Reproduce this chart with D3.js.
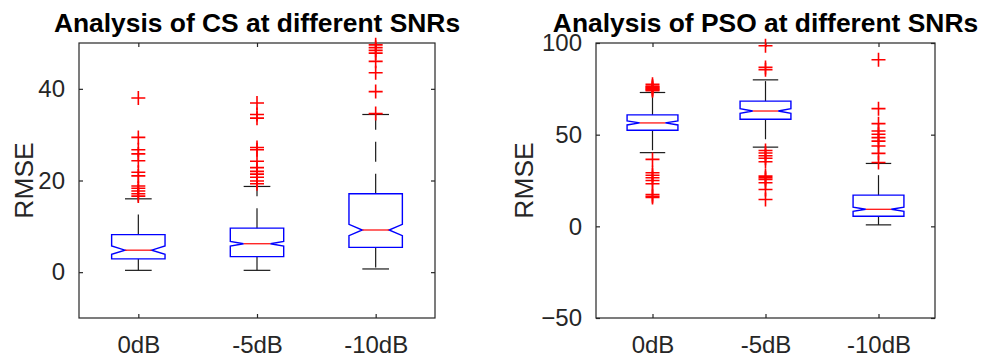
<!DOCTYPE html>
<html>
<head>
<meta charset="utf-8">
<script src="https://cdn.jsdelivr.net/npm/d3@7"></script>
<style>
  html, body { margin: 0; padding: 0; background: #fff; }
  svg { display: block; font-family: "Liberation Sans", Arial, Helvetica, sans-serif; }
</style>
</head>
<body>
<svg id="chart" width="993" height="356"></svg>
<script>
// ---------- Data ----------
const categories = ["0dB", "-5dB", "-10dB"];

// CS panel
const csTitle = "Analysis of CS at different SNRs";
const csTicks = [0, 20, 40];
const csDomain = [-10, 50];
const csQ1 = [2.9, 3.4, 5.4];
const csMedian = [4.8, 6.2, 9.2];
const csQ3 = [8.2, 9.6, 17.1];
const csWhiskerLow = [0.4, 0.4, 0.7];
const csWhiskerHigh = [16.0, 18.7, 34.4];
const csNotch = [0.9, 0.5, 1.25];
const csOutliers = [
  [38.0, 29.4, 26.7, 25.8, 24.3, 21.8, 21.0, 18.8, 18.3, 17.7, 17.1, 16.6],
  [36.9, 34.4, 33.6, 27.2, 26.7, 24.2, 22.8, 22.0, 21.4, 20.7, 19.9, 19.3],
  [34.6, 39.4, 43.5, 46.0, 47.8, 48.4, 49.0, 49.6]
];

// PSO panel
const psoTitle = "Analysis of PSO at different SNRs";
const psoTicks = [-50, 0, 50, 100];
const psoDomain = [-50, 100];
const psoQ1 = [52.4, 58.4, 5.5];
const psoMedian = [56.4, 62.9, 9.3];
const psoQ3 = [60.8, 68.3, 17.0];
const psoWhiskerLow = [40.2, 43.2, 0.8];
const psoWhiskerHigh = [73.0, 79.9, 34.3];
const psoNotch = [1.1, 1.3, 1.1];
const psoOutliers = [
  [74.0, 74.5, 75.0, 75.5, 76.0, 76.5, 77.5, 36.5, 29.2, 27.9, 26.5, 25.0, 23.2, 17.4, 16.4, 15.7],
  [85.4, 86.7, 98.5, 41.4, 40.0, 38.5, 37.1, 35.2, 27.4, 26.5, 25.6, 23.8, 20.1, 14.6],
  [90.9, 64.2, 56.0, 52.0, 50.2, 48.4, 46.5, 43.8, 39.8, 34.8]
];

const yLabel = "RMSE";

// ---------- Drawing ----------
const svg = d3.select("#chart");
const axisColor = "#262626";

function drawPanel(p) {
  const g = svg.append("g");
  const x = d3.scaleLinear().domain([0.5, categories.length + 0.5]).range([p.left, p.right]);
  const y = d3.scaleLinear().domain(p.domain).range([p.bottom, p.top]);
  const boxW = 0.45;

  // axes box
  g.append("rect")
    .attr("x", p.left).attr("y", p.top)
    .attr("width", p.right - p.left).attr("height", p.bottom - p.top)
    .attr("fill", "none").attr("stroke", axisColor).attr("stroke-width", 1.2);

  const tickLen = 4;
  const yAxis = d3.axisLeft(y).tickValues(p.ticks).tickSize(-tickLen).tickPadding(10 + tickLen).tickFormat(d3.format("d"));
  const ya = g.append("g").attr("transform", `translate(${p.left},0)`).call(yAxis);
  const yAxisR = d3.axisRight(y).tickValues(p.ticks).tickSize(-tickLen).tickFormat("");
  const yr = g.append("g").attr("transform", `translate(${p.right},0)`).call(yAxisR);
  const xAxis = d3.axisBottom(x).tickValues(categories.map((c, i) => i + 1)).tickSize(-tickLen)
    .tickPadding(14 + tickLen).tickFormat((d) => categories[d - 1]);
  const xa = g.append("g").attr("transform", `translate(0,${p.bottom})`).call(xAxis);
  const xAxisT = d3.axisTop(x).tickValues(categories.map((c, i) => i + 1)).tickSize(-tickLen).tickFormat("");
  const xt = g.append("g").attr("transform", `translate(0,${p.top})`).call(xAxisT);

  [ya, yr, xa, xt].forEach(a => {
    a.select(".domain").remove();
    a.selectAll(".tick line").attr("stroke", axisColor).attr("stroke-width", 1.2);
    a.selectAll(".tick text").attr("fill", axisColor).attr("font-size", 24).attr("font-family", "Liberation Sans, Arial, sans-serif");
  });
  xa.selectAll(".tick text").attr("dy", "0.71em");

  // y label
  g.append("text")
    .attr("transform", `translate(${p.labelX},${(p.top + p.bottom) / 2}) rotate(-90)`)
    .attr("text-anchor", "middle")
    .attr("fill", axisColor)
    .attr("font-size", 26.4)
    .text(yLabel);

  // title
  g.append("text")
    .attr("x", (p.left + p.right) / 2)
    .attr("y", 32)
    .attr("text-anchor", "middle")
    .attr("font-weight", "bold")
    .attr("font-size", 26.4)
    .attr("fill", "#000")
    .text(p.title);

  const boxes = categories.map((c, i) => ({
    i: i + 1, q1: p.q1[i], med: p.median[i], q3: p.q3[i],
    lo: p.wLow[i], hi: p.wHigh[i], notch: p.notch[i], out: p.outliers[i]
  }));

  boxes.forEach(b => {
    const xl = x(b.i - boxW / 2), xr = x(b.i + boxW / 2);
    const w = xr - xl;
    const xc = x(b.i);
    const capHalf = w / 4;
    g.append("line").attr("x1", xc).attr("x2", xc).attr("y1", y(b.q3)).attr("y2", y(b.hi))
      .attr("stroke", "#1a1a1a").attr("stroke-width", 1.2).attr("stroke-dasharray", "20,12");
    g.append("line").attr("x1", xc).attr("x2", xc).attr("y1", y(b.q1)).attr("y2", y(b.lo))
      .attr("stroke", "#1a1a1a").attr("stroke-width", 1.2).attr("stroke-dasharray", "20,12");
    [b.hi, b.lo].forEach(v => {
      g.append("line").attr("x1", xc - capHalf).attr("x2", xc + capHalf).attr("y1", y(v)).attr("y2", y(v))
        .attr("stroke", "#1a1a1a").attr("stroke-width", 1.2);
    });
    const nLo = b.med - b.notch, nHi = b.med + b.notch;
    const pts = [
      [xl, y(b.q1)], [xl, y(nLo)], [xl + w / 4, y(b.med)], [xl, y(nHi)], [xl, y(b.q3)],
      [xr, y(b.q3)], [xr, y(nHi)], [xr - w / 4, y(b.med)], [xr, y(nLo)], [xr, y(b.q1)]
    ];
    g.append("path").attr("d", d3.line()(pts) + "Z")
      .attr("fill", "none").attr("stroke", "#0000ff").attr("stroke-width", 1.4);
    g.append("line").attr("x1", xl + w / 4).attr("x2", xr - w / 4).attr("y1", y(b.med)).attr("y2", y(b.med))
      .attr("stroke", "#ff0000").attr("stroke-width", 1.2);
    const s = 7;
    b.out.forEach(v => {
      const cy = y(v);
      g.append("path")
        .attr("d", `M${xc - s},${cy}H${xc + s}M${xc},${cy - s}V${cy + s}`)
        .attr("stroke", "#ff0000").attr("stroke-width", 1.6).attr("fill", "none");
    });
  });
}

drawPanel({
  left: 79, right: 435, top: 43, bottom: 318, labelX: 33,
  domain: csDomain, ticks: csTicks, title: csTitle,
  q1: csQ1, median: csMedian, q3: csQ3, wLow: csWhiskerLow, wHigh: csWhiskerHigh,
  notch: csNotch, outliers: csOutliers
});
drawPanel({
  left: 596, right: 935, top: 43, bottom: 318, labelX: 533,
  domain: psoDomain, ticks: psoTicks, title: psoTitle,
  q1: psoQ1, median: psoMedian, q3: psoQ3, wLow: psoWhiskerLow, wHigh: psoWhiskerHigh,
  notch: psoNotch, outliers: psoOutliers
});
</script>
</body>
</html>
